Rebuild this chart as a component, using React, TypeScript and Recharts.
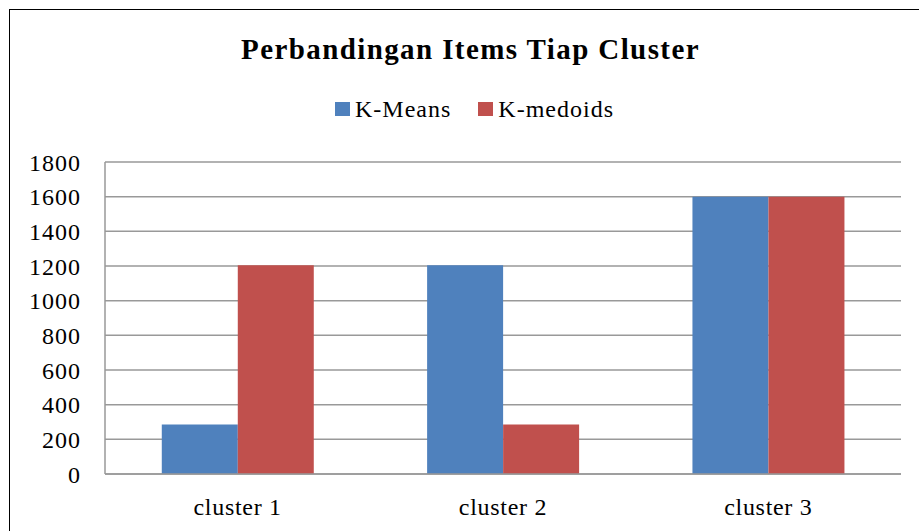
import { Bar, BarChart, CartesianGrid, Legend, XAxis, YAxis } from "recharts"

const clusters = ["cluster 1", "cluster 2", "cluster 3"]
const kMeans = [285, 1205, 1600]
const kMedoids = [1205, 285, 1600]
const yTicks = [0, 200, 400, 600, 800, 1000, 1200, 1400, 1600, 1800]
const seriesNames = ["K-Means", "K-medoids"]
const seriesColors = ["#4F81BD", "#C0504D"]

const data = clusters.map((cluster, i) => ({
  cluster,
  kmeans: kMeans[i],
  kmedoids: kMedoids[i],
}))

const font = '"Liberation Serif", "Times New Roman", serif'

function LegendBox() {
  return (
    <div style={{ display: "flex", alignItems: "center", fontFamily: font }}>
      {seriesNames.map((name, i) => (
        <div
          key={name}
          style={{ display: "flex", alignItems: "center", marginLeft: i === 0 ? 0 : 27 }}
        >
          <span
            style={{ display: "inline-block", width: 15, height: 14, background: seriesColors[i], marginRight: 5 }}
          />
          <span style={{ fontSize: 24, lineHeight: "24px", letterSpacing: 1, color: "#000" }}>{name}</span>
        </div>
      ))}
    </div>
  )
}

export default function App() {
  return (
    <div
      style={{
        position: "absolute",
        left: 0,
        top: 0,
        width: 919,
        height: 531,
        overflow: "hidden",
        background: "#fff",
      }}
    >
      <div
        style={{
          position: "absolute",
          left: 9,
          top: 9,
          width: 930,
          height: 540,
          borderLeft: "1px solid #000",
          borderTop: "1px solid #000",
        }}
      />
      <div
        style={{
          position: "absolute",
          left: 0,
          top: 35,
          width: 941,
          textAlign: "center",
          fontFamily: font,
          fontWeight: "bold",
          fontSize: 29,
          lineHeight: "28px",
          letterSpacing: 1.4,
          color: "#000",
        }}
      >
        Perbandingan Items Tiap Cluster
      </div>
      <BarChart
        width={919}
        height={531}
        data={data}
        margin={{ top: 162, right: 18, bottom: 0, left: 0 }}
        barCategoryGap="21.4%"
        barGap={0}
        style={{ position: "absolute", left: 0, top: 0 }}
      >
        <CartesianGrid vertical={false} stroke="#999" strokeWidth={1.5} />
        <XAxis
          dataKey="cluster"
          height={57}
          tickSize={0}
          tickMargin={24}
          axisLine={{ stroke: "#999", strokeWidth: 1.5 }}
          tickLine={false}
          tick={{ fill: "#000", fontSize: 24, fontFamily: font, letterSpacing: 0.7 }}
        />
        <YAxis
          width={105}
          domain={[0, 1800]}
          ticks={yTicks}
          tickSize={0}
          tickMargin={24}
          axisLine={{ stroke: "#999", strokeWidth: 1.5 }}
          tickLine={false}
          tick={{ fill: "#000", fontSize: 24, fontFamily: font, letterSpacing: 1 }}
        />
        <Legend
          verticalAlign="middle"
          align="center"
          layout="horizontal"
          wrapperStyle={{ top: 97, left: 335, width: "auto" }}
          content={() => <LegendBox />}
        />
        <Bar dataKey="kmeans" name={seriesNames[0]} fill={seriesColors[0]} isAnimationActive={false} />
        <Bar dataKey="kmedoids" name={seriesNames[1]} fill={seriesColors[1]} isAnimationActive={false} />
      </BarChart>
    </div>
  )
}
